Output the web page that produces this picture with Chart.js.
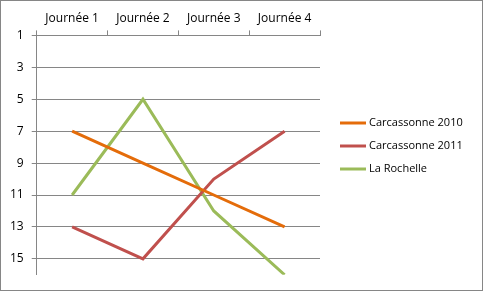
<!DOCTYPE html>
<html>
<head>
<meta charset="utf-8">
<script src="https://cdn.jsdelivr.net/npm/chart.js@4"></script>
<style>
html,body{margin:0;padding:0;background:#fff;}
#wrap{position:absolute;left:0;top:0;width:481px;height:289px;border:1px solid #868686;}
canvas{display:block;}
</style>
</head>
<body>
<div id="wrap"><canvas id="c" width="481" height="289"></canvas></div>
<script>
const categories = ["Journée 1", "Journée 2", "Journée 3", "Journée 4"];
const carcassonne2010 = [7, 9, 11, 13];
const carcassonne2011 = [13, 15, 10, 7];
const laRochelle = [11, 5, 12, 16];
const yTicks = [1, 3, 5, 7, 9, 11, 13, 15];

const FONT = "'Open Sans', sans-serif";
Chart.defaults.font.family = FONT;
Chart.defaults.font.size = 11;
Chart.defaults.color = '#000';

const sideLegend = {
  id: 'sideLegend',
  afterDraw(chart) {
    const ctx = chart.ctx;
    const x0 = 339, lineW = 26, yStart = 122, step = 23;
    ctx.save();
    ctx.font = "11px " + FONT;
    ctx.textBaseline = 'middle';
    ctx.textAlign = 'left';
    chart.data.datasets.forEach((ds, i) => {
      const y = yStart + i * step;
      ctx.strokeStyle = ds.borderColor;
      ctx.lineWidth = 3;
      ctx.beginPath();
      ctx.moveTo(x0, y);
      ctx.lineTo(x0 + lineW, y);
      ctx.stroke();
      ctx.fillStyle = '#000';
      ctx.fillText(ds.label, x0 + lineW + 3, y);
    });
    ctx.restore();
  }
};

new Chart(document.getElementById('c'), {
  type: 'line',
  data: {
    labels: categories,
    datasets: [
      {label: 'Carcassonne 2010', data: carcassonne2010, borderColor: '#E46C0A', backgroundColor: '#E46C0A'},
      {label: 'Carcassonne 2011', data: carcassonne2011, borderColor: '#C0504D', backgroundColor: '#C0504D'},
      {label: 'La Rochelle', data: laRochelle, borderColor: '#9BBB59', backgroundColor: '#9BBB59'}
    ].map(d => Object.assign(d, {borderWidth: 3, pointRadius: 0, tension: 0, fill: false}))
  },
  plugins: [sideLegend],
  options: {
    responsive: false,
    animation: false,
    events: [],
    layout: {padding: {left: 1, top: 5, right: 162, bottom: 15}},
    plugins: {
      tooltip: {enabled: false},
      legend: {display: false}
    },
    scales: {
      x: {
        position: 'top',
        offset: true,
        grid: {offset: true, drawOnChartArea: false, drawTicks: true, tickLength: 5, color: '#868686'},
        border: {color: '#868686'},
        ticks: {padding: 5, font: {size: 12}}
      },
      y: {
        reverse: true,
        min: 1,
        max: 16,
        afterBuildTicks: (axis) => { axis.ticks = yTicks.map(v => ({value: v})); },
        grid: {color: '#868686', tickLength: 5},
        border: {color: '#868686'},
        ticks: {padding: 8, font: {size: 12}}
      }
    }
  }
});
</script>
</body>
</html>
